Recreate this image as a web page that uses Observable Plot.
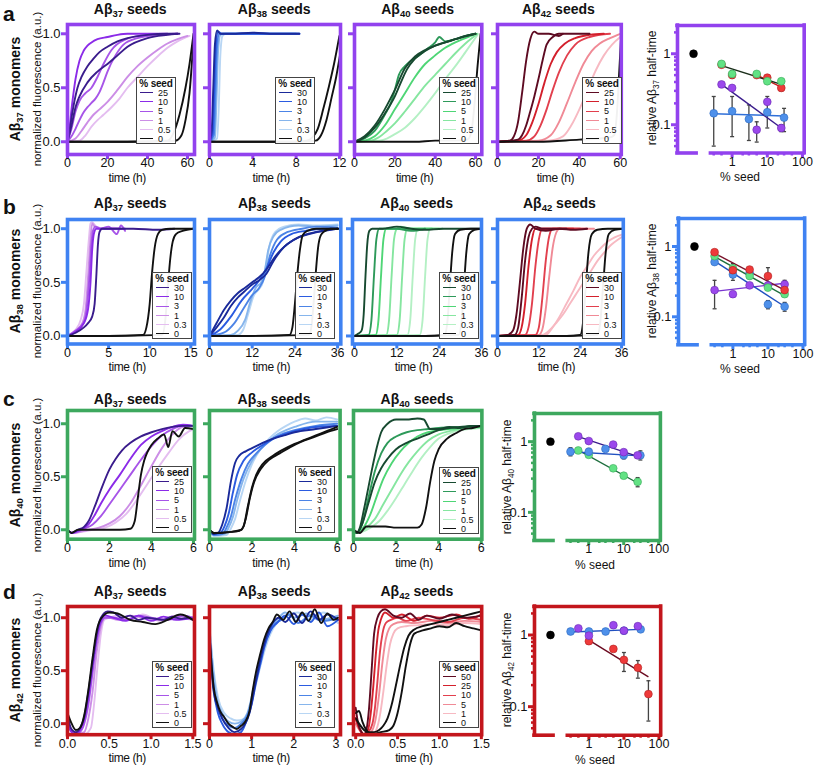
<!DOCTYPE html>
<html><head><meta charset="utf-8">
<script src="https://cdn.jsdelivr.net/npm/d3@7"></script>
<script src="https://cdn.jsdelivr.net/npm/@observablehq/plot@0.6"></script>
<style>
body{margin:0;background:#fff;font-family:"Liberation Sans",Arial,sans-serif;color:#111;}
#fig{position:relative;width:815px;height:766px;overflow:hidden;background:#fff;}
.abs{position:absolute;white-space:nowrap;}
.ctr{transform:translate(-50%,-50%);}
.rot{transform:translate(-50%,-50%) rotate(-90deg);}
.title{font-weight:bold;font-size:14px;line-height:16px;}
.rowlab{font-weight:bold;font-size:21px;line-height:21px;}
.xl{font-size:12px;line-height:11px;letter-spacing:-0.4px;}
.ylb{font-weight:bold;font-size:14px;line-height:16px;}
.yln{font-size:11.5px;line-height:13px;}
.ylh{font-size:12px;line-height:11px;}
sub{font-size:0.68em;vertical-align:baseline;position:relative;top:0.35em;line-height:0;}
.legend{position:absolute;width:40px;height:67px;box-sizing:border-box;border:1px solid #444;background:rgba(255,255,255,0.94);}
.lh{font-weight:bold;font-size:10px;line-height:11px;height:11px;text-align:center;letter-spacing:-0.2px;}
.lr{font-size:9px;line-height:9.2px;height:9.2px;}
.sw{display:inline-block;width:13px;border-top:1.6px solid;vertical-align:middle;margin:0 5px 0 3px;position:relative;top:-1px;}
.plot{position:absolute;}
.plot svg{display:block;overflow:visible;}
</style></head>
<body><div id="fig"></div>
<script>
const FONT='"Liberation Sans", Arial, sans-serif';

// ---------- colours by seed type (dark -> light, then black for 0 %) ----------
const palP=["#3A1C8C","#8B2BE8","#A755E8","#CC8EE6","#E4BDF0","#111111"];
const palB=["#1A2A9A","#2B5BE0","#4C84E6","#86B5EC","#B8D6F4","#111111"];
const palG=["#174A30","#2E9A5A","#4FD676","#86E6A0","#B4F0C4","#111111"];
const palR=["#5E0B22","#D3202C","#E2404E","#F08A96","#F7B9C2","#111111"];
const frameCol={a:"#9242EE",b:"#3F82F2",c:"#3DA85E",d:"#C3161C"};

// ---------- legend labels (% seed) ----------
const seeds25=["25","10","5","1","0.5","0"];
const seeds30=["30","10","3","1","0.3","0"];
const seeds50=["50","25","10","5","1","0"];

// ---------- kinetic traces: [seed index, time (h), normalized fluorescence] ----------
const a1=[
[0,[0,1,2,3,5,7,10,13,16,20,25,30,40,50,56],[0,0.1,0.22,0.33,0.5,0.6,0.7,0.77,0.83,0.88,0.93,0.96,0.99,1,1]],
[0,[0,2,4,6,10,15,20,25,30,40,50,55],[0,0.15,0.32,0.42,0.55,0.65,0.72,0.8,0.88,0.96,0.99,1]],
[1,[0,1,2,3,4,6,8,10,12,15,20,25,30,40,50],[0,0.12,0.3,0.45,0.58,0.75,0.84,0.89,0.92,0.95,0.97,0.99,1,1,1]],
[2,[0,2,4,6,8,10,12,14,16,18,20,24,28,35,45,55],[0,0.05,0.12,0.2,0.27,0.32,0.36,0.4,0.46,0.55,0.65,0.8,0.9,0.96,0.99,1]],
[2,[0,2,4,6,9,12,15,18,22,28,40,55],[0,0.12,0.28,0.38,0.45,0.5,0.6,0.72,0.85,0.94,0.99,1]],
[3,[0,4,7,10,13,16,20,25,30,35,40,45,50,55,60],[0,0.03,0.1,0.18,0.25,0.3,0.37,0.48,0.6,0.7,0.78,0.85,0.91,0.95,0.98]],
[4,[0,6,9,12,15,18,22,26,30,35,40,45,50,55,61],[0,0.01,0.06,0.14,0.2,0.25,0.32,0.4,0.5,0.6,0.7,0.79,0.87,0.93,0.98]],
[5,[0,30,50,53,56,59,61,63],[0,0,0.01,0.08,0.25,0.5,0.72,1]],
[5,[0,30,54,57,59,61,63],[0,0,0.01,0.06,0.2,0.45,0.95]]];
const a2=[
[0,[0,0.2,0.35,0.5,0.7,1,2,4,6,8.3],[0,0.1,0.5,0.9,1.03,1,1,1.01,1,1]],
[1,[0,0.3,0.45,0.6,0.8,1.1,2,4,6,8.3],[0,0.08,0.5,0.9,1.02,1,1,1,1,1]],
[2,[0,0.4,0.55,0.7,0.9,1.2,2,4,6,8.3],[0,0.06,0.45,0.88,1,1,1,1,1,1]],
[3,[0,0.5,0.65,0.8,1,1.3,2,4,6,8],[0,0.04,0.4,0.85,0.99,1,1,1,1,1]],
[4,[0,0.7,0.85,1,1.2,1.5,2,4,6,8],[0,0.03,0.3,0.8,0.98,1,1,1,1,1]],
[5,[0,2,4,6,8,9,9.5,10,10.5,11,11.5,12],[0,0,0,0,0,0.01,0.04,0.12,0.3,0.5,0.72,0.98]],
[5,[0,4,8,9.8,10.3,10.8,11.3,11.7,12.05],[0,0,0,0.01,0.06,0.2,0.42,0.6,0.8]]];
const a3=[
[0,[0,5,10,15,20,23,26,30,35,40,45,50,55,60],[0,0.04,0.13,0.26,0.42,0.55,0.67,0.77,0.84,0.89,0.92,0.95,0.98,1]],
[0,[0,5,10,15,20,25,30,35,40,50,60],[0,0.05,0.15,0.3,0.48,0.68,0.79,0.85,0.89,0.95,1]],
[1,[0,5,10,15,18,20,22,25,28,32,36,40,42,45,50,55,60],[0,0.03,0.1,0.25,0.36,0.48,0.62,0.7,0.75,0.8,0.86,0.92,0.97,0.93,0.95,0.98,1]],
[2,[0,5,10,15,20,25,30,35,40,45,50,55,60],[0,0.01,0.05,0.15,0.3,0.45,0.6,0.72,0.8,0.87,0.92,0.96,1]],
[3,[0,8,12,16,20,25,30,35,40,45,50,55,61],[0,0.01,0.04,0.1,0.17,0.28,0.4,0.52,0.62,0.72,0.82,0.91,1]],
[4,[0,12,16,20,25,30,35,40,45,50,55,61],[0,0.01,0.03,0.07,0.13,0.22,0.33,0.45,0.58,0.7,0.83,0.99]],
[5,[0,10,20,30,40,50,56,58,59.5,61,62.5],[0,0,0,0,0.01,0.01,0.02,0.1,0.35,0.7,1]]];
const a4=[
[0,[0,6,8,10,12,14,16,18,20,25,30,32],[0,0.01,0.05,0.18,0.45,0.75,0.95,1.02,1,1,0.98,1]],
[0,[0,10,12,14,16,18,20,22,24,27,30,35,40,45],[0,0.02,0.06,0.15,0.28,0.42,0.58,0.75,0.9,0.97,1,1,1,1]],
[1,[0,10,14,17,20,23,26,29,33,38,45,52],[0,0.01,0.06,0.18,0.35,0.55,0.72,0.83,0.91,0.96,0.99,1]],
[2,[0,14,18,21,24,27,30,34,38,45,55],[0,0.01,0.05,0.15,0.3,0.48,0.64,0.8,0.9,0.97,1]],
[3,[0,20,26,30,34,38,42,46,50,55,60],[0,0.01,0.06,0.18,0.36,0.55,0.72,0.84,0.91,0.96,1]],
[4,[0,25,32,36,40,44,48,52,56,60],[0,0.01,0.05,0.15,0.3,0.48,0.66,0.8,0.9,0.97]],
[5,[0,20,40,50,55,57,58.5,59.5,60.5],[0,0,0.02,0.03,0.04,0.06,0.3,0.65,1]]];

const b1=[
[0,[0,1,2,2.5,3,3.3,3.5,3.7,3.9,4.2,5,8,11,13],[0,0.03,0.08,0.12,0.18,0.3,0.55,0.85,0.97,1,1,1,0.99,1]],
[1,[0,1,2,2.5,2.8,3,3.2,3.5,4,5,7],[0,0.04,0.12,0.25,0.5,0.8,0.95,1,1,1,1]],
[2,[0,1,2,2.4,2.7,2.9,3.1,3.4,4,5,6,6.5,7],[0,0.05,0.13,0.3,0.6,0.85,0.98,1.02,1,1.02,0.95,1.03,0.98]],
[3,[0,1,1.8,2.2,2.5,2.8,3,3.3,4,5,6.5],[0,0.05,0.12,0.25,0.55,0.9,1.05,1.02,1,1,1]],
[4,[0,1,1.6,2,2.3,2.6,2.8,3,3.5,4.5,5.5,6.5],[0,0.06,0.15,0.3,0.6,0.9,1.05,1.06,1.02,1,1.01,1]],
[5,[0,5,9.2,9.6,10,10.3,10.6,11,11.5,12.5,15.3],[0,0,0.01,0.08,0.3,0.6,0.82,0.95,0.99,1,1]],
[5,[0,5,11.5,11.9,12.2,12.5,12.8,13.2,14,15.3],[0,0,0.01,0.15,0.45,0.72,0.88,0.95,0.98,1]]];
const b2=[
[0,[0,2,4,6,8,10,12,14,16,18,20,22,25,28,32,36],[0,0.12,0.24,0.33,0.4,0.45,0.5,0.55,0.62,0.72,0.8,0.86,0.92,0.95,0.98,1]],
[0,[0,2,4,6,8,10,12,14,16,18,21,25,30,36],[0,0.08,0.17,0.28,0.36,0.42,0.48,0.52,0.58,0.7,0.83,0.92,0.97,1]],
[1,[0,3,6,9,12,14,16,18,20,23,27,32,36],[0,0.06,0.18,0.33,0.44,0.52,0.63,0.78,0.88,0.95,0.98,1,1]],
[2,[0,4,7,10,12,14,15.5,17,19,22,26,30,36],[0,0.03,0.12,0.28,0.38,0.45,0.55,0.75,0.9,0.97,1,1.02,1.01]],
[3,[0,6,8,10,11.5,13,14.5,15.5,16.5,18,20,25,30,36],[0,0.01,0.05,0.15,0.32,0.45,0.5,0.6,0.8,0.93,0.99,1.03,1.02,1.03]],
[4,[0,8,9.5,11,12.5,14,15,16,17,18.5,21,25,30,36],[0,0.01,0.06,0.22,0.38,0.44,0.5,0.68,0.86,0.97,1.02,1.04,1.03,1.04]],
[5,[0,10,22.5,23.3,24,24.7,25.4,26.2,27.5,30,36],[0,0,0.01,0.08,0.3,0.58,0.8,0.94,0.98,1,1]],
[5,[0,10,28,28.7,29.3,29.9,30.5,31.3,32.5,34,36.5],[0,0,0.01,0.1,0.32,0.6,0.82,0.94,0.98,1,1]]];
const b3=[
[0,[0,1,2,2.6,3.1,3.6,4.2,5,8,12,16,20,25,30,36],[0,0.02,0.05,0.2,0.55,0.85,0.98,1,1,1.02,1,0.99,1,1,1]],
[1,[0,4,4.8,5.5,6.2,7,8,12,16,20],[0,0.01,0.15,0.55,0.9,1,1,1,0.98,1]],
[2,[0,6,6.8,7.5,8.2,9,10,14,18,22],[0,0.01,0.15,0.55,0.9,1,1,1,1,1]],
[3,[0,9,9.8,10.5,11.2,12,13,16,20,24],[0,0.01,0.15,0.55,0.9,1,1.02,1,1,1]],
[3,[0,12,12.8,13.5,14.2,15,16,20,24],[0,0.01,0.15,0.55,0.9,1,1,1,1]],
[4,[0,15,15.8,16.5,17.2,18,19,22,25],[0,0.01,0.15,0.55,0.9,1,1,1,1]],
[4,[0,18.5,19.3,20,20.7,21.5,22.5,25],[0,0.01,0.15,0.55,0.9,1,1,1]],
[5,[0,10,20,25.5,26.3,27,27.7,28.5,30,33,36],[0,0,0,0.01,0.12,0.45,0.78,0.95,0.99,1,1]],
[5,[0,10,20,29.5,30.3,31,31.7,32.5,34,36],[0,0,0,0.01,0.12,0.45,0.78,0.95,0.99,1]]];
const b4=[
[0,[0,3,4.5,5.5,6.5,7.5,8.5,9.5,11,14,18,22,26],[0,0.01,0.05,0.2,0.5,0.82,1,1.04,1,0.98,1,0.99,1]],
[0,[0,5,6,7,8,9,10,11,13,16,20],[0,0.01,0.08,0.35,0.7,0.92,1,1.02,1,1,1]],
[1,[0,6,7,8,9,10,11,12,14,18,22],[0,0.01,0.08,0.3,0.65,0.9,1,1,1,1,1]],
[2,[0,8,9,10,11,12,13,14,16,20,24],[0,0.01,0.08,0.3,0.65,0.9,1,1,1,1,1]],
[2,[0,11,12,13,14,15,16,18,22,26],[0,0.01,0.08,0.35,0.7,0.93,1,1,1,1]],
[3,[0,12,13,14,15,16,17,18,20,24,28],[0,0.01,0.06,0.25,0.55,0.82,0.96,1,1,1,1]],
[4,[0,13,15,17,19,21,23,25,27,29,31,33,35,36.5],[0,0.01,0.05,0.12,0.2,0.3,0.4,0.5,0.6,0.7,0.78,0.85,0.9,0.93]],
[4,[0,14,16,18,20,22,24,26,28,30,32,34,36.5],[0,0.01,0.08,0.18,0.3,0.42,0.55,0.65,0.75,0.82,0.88,0.92,0.95]],
[5,[0,10,20,24,24.8,25.6,26.4,27.4,29,32,36.5],[0,0,0,0.01,0.12,0.45,0.78,0.95,0.99,1,1]],
[5,[0,10,20,29,29.8,30.6,31.4,32.3,34,36.5],[0,0,0,0.01,0.12,0.45,0.78,0.95,0.99,1]]];

const c1=[
[0,[0,0.2,0.5,0.8,1,1.3,1.6,2,2.3,2.6,3,3.5,4,4.5,5,5.5,6],[0,-0.03,0,0.03,0.08,0.22,0.38,0.57,0.67,0.75,0.82,0.88,0.92,0.95,0.97,0.98,0.98]],
[1,[0,0.2,0.6,1,1.3,1.6,2,2.5,3,3.5,4,4.5,5,5.5,6],[0,-0.03,0,0.05,0.14,0.25,0.38,0.52,0.67,0.8,0.88,0.93,0.97,0.99,0.98]],
[2,[0,0.2,0.8,1.2,1.6,2,2.5,3,3.5,4,4.5,5,5.5,6],[0,-0.03,0.01,0.05,0.13,0.24,0.38,0.52,0.66,0.79,0.89,0.95,0.98,0.98]],
[3,[0,0.2,1,1.5,2,2.5,3,3.5,4,4.5,5,5.5,6],[0,-0.03,0,0.02,0.06,0.13,0.25,0.42,0.6,0.77,0.9,0.97,0.98]],
[4,[0,0.2,1.2,1.8,2.3,2.8,3.3,3.8,4.3,4.8,5.3,5.8,6],[0,-0.03,0,0.02,0.07,0.15,0.28,0.43,0.58,0.72,0.85,0.93,0.95]],
[5,[0,0.2,0.5,1,1.5,2,2.5,3,3.2,3.35,3.5,3.65,3.8,4,4.3,4.6,4.8,5,5.3,5.6,6],[0,-0.03,0,0,0,0,0,0.01,0.08,0.3,0.52,0.65,0.73,0.8,0.86,0.9,0.78,0.93,0.88,0.96,0.95]]];
const c2=[
[0,[0,0.2,0.4,0.6,0.8,1,1.2,1.4,1.7,2,2.5,3,3.5,4,5,6],[0,-0.04,-0.03,0.05,0.2,0.45,0.63,0.7,0.74,0.77,0.82,0.86,0.89,0.92,0.95,0.98]],
[1,[0,0.2,0.5,0.7,0.9,1.1,1.3,1.6,2,2.5,3,3.5,4,5,6],[0,-0.04,-0.03,0.03,0.15,0.35,0.52,0.65,0.73,0.8,0.86,0.9,0.93,0.97,0.98]],
[2,[0,0.2,0.6,0.8,1,1.2,1.5,1.8,2.2,2.6,3,3.5,4,5,6],[0,-0.05,-0.04,0.02,0.12,0.28,0.48,0.62,0.72,0.8,0.86,0.91,0.94,0.98,1]],
[3,[0,0.2,0.7,0.9,1.1,1.3,1.6,2,2.4,2.8,3.2,3.6,4,5,6],[0,-0.05,-0.04,0.02,0.12,0.28,0.48,0.65,0.76,0.84,0.9,0.94,0.97,1.02,1.02]],
[4,[0,0.2,0.8,1,1.2,1.4,1.7,2,2.4,2.8,3.2,3.6,4,4.5,5,5.5,6],[0,-0.06,-0.05,0.01,0.1,0.25,0.46,0.62,0.76,0.86,0.93,0.98,1.02,1.05,1.03,1.06,1.04]],
[5,[0,0.2,0.5,1,1.4,1.6,1.8,2,2.2,2.5,3,3.5,4,4.5,5,5.5,6],[0,-0.03,-0.03,-0.02,-0.01,0.03,0.22,0.4,0.52,0.62,0.7,0.76,0.81,0.85,0.89,0.93,0.97]],
[5,[0,0.2,1,1.5,1.7,1.9,2.1,2.4,2.8,3.3,3.8,4.3,5,5.5,6],[0,-0.03,-0.02,0,0.1,0.3,0.45,0.57,0.66,0.72,0.78,0.83,0.88,0.92,0.95]]];
const c3=[
[0,[0,0.15,0.3,0.5,0.7,0.9,1.1,1.3,1.6,2,2.5,3,3.3,3.6,4,4.5,5,5.5,6],[0,-0.03,0.02,0.2,0.4,0.6,0.78,0.92,1,1.04,1.04,1.05,1.04,0.95,0.95,0.97,0.96,0.98,0.98]],
[0,[0,0.15,0.4,0.7,1,1.3,1.6,2,2.5,3,3.5,4,5,6],[0,-0.03,0.05,0.25,0.45,0.58,0.67,0.76,0.82,0.86,0.9,0.94,0.97,0.98]],
[1,[0,0.15,0.4,0.7,1,1.3,1.6,2,2.5,3,3.5,4,5,6],[0,-0.03,0.05,0.3,0.55,0.72,0.82,0.88,0.92,0.94,0.95,0.96,0.97,0.98]],
[2,[0,0.15,0.5,0.8,1.1,1.4,1.8,2.2,2.6,3,3.5,4,5,6],[0,-0.03,0.03,0.15,0.32,0.48,0.63,0.74,0.82,0.88,0.92,0.94,0.96,0.97]],
[3,[0,0.15,0.6,1,1.4,1.8,2.2,2.6,3,3.5,4,4.5,5,6],[0,-0.03,0.02,0.1,0.24,0.38,0.52,0.64,0.74,0.84,0.9,0.93,0.95,0.97]],
[4,[0,0.15,0.8,1.2,1.6,2,2.4,2.8,3.2,3.6,4,4.5,5,6],[0,-0.03,0.02,0.08,0.18,0.3,0.43,0.56,0.68,0.78,0.86,0.91,0.94,0.96]],
[5,[0,0.3,0.6,1,1.5,2,2.5,3,3.2,3.4,3.6,3.8,4,4.4,4.8,5.2,5.6,6],[0,-0.03,0.03,0.03,0.03,0.02,0.02,0.02,0.05,0.2,0.45,0.65,0.76,0.86,0.91,0.95,0.96,0.98]]];

const d1=[
[0,[0,0.04,0.1,0.15,0.2,0.25,0.3,0.35,0.4,0.48,0.55,0.65,0.75,0.85,0.95,1.05,1.15,1.25,1.35,1.45,1.5],[0.09,-0.04,-0.08,-0.04,0.06,0.3,0.58,0.85,1,1.06,1.05,1,1.02,0.98,1,0.99,0.98,1.01,0.99,1,0.98]],
[1,[0,0.05,0.1,0.15,0.2,0.25,0.3,0.35,0.4,0.45,0.55,0.7,0.85,1,1.15,1.3,1.5],[0.02,-0.08,-0.1,-0.06,0.04,0.25,0.55,0.82,0.97,1.02,1,0.97,1.02,0.97,1.01,0.98,1]],
[2,[0,0.05,0.1,0.15,0.2,0.25,0.3,0.35,0.4,0.45,0.55,0.7,0.85,1,1.2,1.4,1.5],[0,-0.08,-0.1,-0.08,0,0.18,0.48,0.78,0.95,1,1,0.98,1.02,1,0.98,1.02,1]],
[3,[0,0.1,0.2,0.25,0.3,0.35,0.4,0.45,0.5,0.6,0.75,0.9,1.1,1.3,1.5],[0,-0.1,-0.08,0.05,0.3,0.68,0.92,1,1,0.98,1.02,1,0.98,1.02,1]],
[4,[0,0.1,0.2,0.28,0.32,0.36,0.4,0.44,0.5,0.6,0.75,0.9,1.1,1.3,1.5],[0,-0.1,-0.1,-0.04,0.2,0.55,0.85,0.98,1,1.02,0.98,1.03,0.97,1,0.98]],
[5,[0,0.05,0.1,0.15,0.2,0.25,0.3,0.35,0.4,0.5,0.6,0.75,0.9,1.05,1.2,1.35,1.5],[0.1,0,-0.06,-0.04,0.08,0.32,0.62,0.88,0.99,1.05,1.04,0.98,0.96,0.94,0.98,1.03,0.98]]];
const d2=[
[4,[0,0.1,0.2,0.35,0.5,0.65,0.8,0.95,1.05,1.15,1.3,1.45,1.6,1.8,2.1,2.4,2.7,3.05],[0.92,0.5,0.25,0.1,0.05,0.03,0.04,0.12,0.28,0.45,0.68,0.85,0.95,1.02,1.05,0.98,1.05,0.95]],
[3,[0,0.1,0.2,0.3,0.45,0.6,0.75,0.9,1,1.1,1.25,1.4,1.6,1.8,2,2.3,2.6,3.05],[0.9,0.45,0.2,0.1,0.02,0,0.02,0.1,0.25,0.45,0.7,0.88,0.98,1.05,1,1.04,0.98,1.02]],
[2,[0,0.1,0.2,0.3,0.45,0.6,0.75,0.9,1,1.1,1.2,1.35,1.5,1.7,1.9,2.1,2.4,2.7,3.05],[0.82,0.35,0.15,0.05,-0.02,-0.04,0,0.08,0.22,0.42,0.6,0.8,0.92,0.98,1.03,0.95,1.02,0.97,1]],
[1,[0,0.05,0.1,0.2,0.3,0.45,0.6,0.75,0.9,1,1.1,1.2,1.3,1.45,1.6,1.8,2,2.2,2.4,2.6,2.8,3.05],[0.85,0.55,0.32,0.1,0,-0.08,-0.1,-0.08,0.05,0.18,0.38,0.55,0.72,0.88,0.95,1.02,0.94,1.03,0.96,1.05,0.92,0.98]],
[0,[0,0.05,0.1,0.2,0.3,0.45,0.6,0.75,0.85,0.95,1.05,1.15,1.25,1.35,1.5,1.65,1.8,2,2.2,2.4,2.6,2.8,3.05],[0.8,0.5,0.3,0.15,0.05,-0.04,-0.08,-0.05,0,0.1,0.3,0.5,0.68,0.82,0.95,1,0.96,1.04,0.95,1.06,0.98,1.03,0.98]],
[5,[0,0.05,0.1,0.18,0.25,0.35,0.45,0.55,0.65,0.75,0.85,0.95,1.02,1.1,1.2,1.3,1.4,1.5,1.6,1.75,1.9,2.05,2.2,2.35,2.5,2.65,2.8,2.95,3.05],[0.84,0.55,0.34,0.2,0.12,0.06,0,-0.03,-0.05,-0.02,0.02,0.12,0.3,0.48,0.65,0.8,0.9,0.96,1.03,0.98,1.06,0.96,1.05,0.97,1.08,0.95,1.04,0.98,1]]];
const d3=[
[0,[0,0.03,0.07,0.1,0.13,0.16,0.19,0.22,0.26,0.3,0.35,0.45,0.55,0.65,0.75,0.85,1,1.15,1.3,1.5],[0.15,0,-0.08,-0.1,-0.05,0.15,0.5,0.85,1,1.06,1.08,1.02,1,1.04,0.98,1.02,0.99,1.03,1,1.02]],
[1,[0,0.05,0.1,0.15,0.18,0.21,0.24,0.27,0.3,0.35,0.45,0.55,0.7,0.85,1,1.2,1.35,1.5],[0.05,-0.06,-0.1,-0.05,0.1,0.35,0.65,0.88,0.98,1.05,1,1.03,0.97,1.02,1,1.03,0.99,1.03]],
[2,[0,0.05,0.1,0.15,0.2,0.23,0.26,0.29,0.32,0.36,0.42,0.5,0.6,0.75,0.9,1.1,1.3,1.5],[0.05,-0.05,-0.1,-0.08,0,0.15,0.4,0.68,0.85,0.95,0.98,1,0.97,1,0.98,0.96,1,0.98]],
[3,[0,0.1,0.15,0.2,0.24,0.28,0.32,0.36,0.4,0.45,0.55,0.7,0.9,1.1,1.3,1.5],[0,-0.1,-0.1,-0.06,0.05,0.28,0.58,0.8,0.9,0.94,0.96,0.95,0.97,0.95,0.97,0.96]],
[4,[0,0.1,0.2,0.25,0.29,0.33,0.37,0.41,0.45,0.5,0.6,0.75,0.9,1.1,1.3,1.5],[0,-0.1,-0.1,-0.05,0.08,0.3,0.55,0.75,0.85,0.9,0.92,0.93,0.94,0.93,0.95,0.94]],
[5,[0,0.04,0.08,0.12,0.16,0.22,0.28,0.33,0.38,0.43,0.48,0.53,0.58,0.63,0.7,0.8,0.9,1,1.1,1.2,1.3,1.4,1.5],[0.1,0.12,0.02,-0.05,-0.08,-0.08,-0.06,-0.02,0.05,0.18,0.36,0.55,0.72,0.83,0.89,0.92,0.94,0.96,0.98,1,1.02,1.04,1.06]],
[5,[0,0.1,0.2,0.3,0.4,0.45,0.5,0.55,0.6,0.65,0.7,0.8,0.9,1,1.1,1.2,1.3,1.4,1.5],[0.05,-0.06,-0.1,-0.08,-0.06,-0.02,0.1,0.3,0.55,0.75,0.85,0.88,0.9,0.92,0.91,0.95,0.92,0.9,0.88]]];

// ---------- relative half-time panels: [group, % seed, value] ----------
const htA_pts=[["K",0.08,1],["B",0.3,0.145],["B",1,0.155],["B",3,0.12],["B",10,0.15],["B",30,0.126],
 ["P",0.5,0.37],["P",1,0.33],["P",5,0.085],["P",10,0.21],["P",25,0.09],
 ["R",0.5,0.7],["R",1,0.5],["R",5,0.5],["R",10,0.46],["R",25,0.33],
 ["G",0.5,0.72],["G",1,0.52],["G",5,0.52],["G",10,0.41],["G",25,0.41]];
const htA_err=[["B",0.3,0.05,0.25],["B",1,0.068,0.25],["B",3,0.06,0.19],["B",10,0.09,0.25],["B",30,0.08,0.17],["P",5,0.057,0.11],["P",25,0.08,0.1],["G",1,0.45,0.58],["R",25,0.3,0.36]];
const htA_fit=[["B",0.3,0.143,30,0.133],["P",0.5,0.37,25,0.09],["R",5,0.5,25,0.34],["G",0.5,0.68,25,0.37]];
const htB_pts=[["K",0.08,1],["P",0.3,0.24],["P",1,0.21],["P",3,0.28],["P",10,0.28],["P",30,0.29],
 ["B",0.3,0.6],["B",1,0.4],["B",3,0.42],["B",10,0.15],["B",30,0.14],
 ["G",0.3,0.73],["G",1,0.49],["G",3,0.38],["G",10,0.26],["G",30,0.21],
 ["R",0.3,0.83],["R",1,0.46],["R",3,0.47],["R",10,0.38],["R",30,0.24]];
const htB_err=[["K",0.08,0.9,1.1],["P",0.3,0.13,0.33],["G",1,0.42,0.57],["B",1,0.33,0.47],["R",3,0.44,0.5],["R",10,0.3,0.5],["B",10,0.13,0.17],["B",30,0.12,0.16],["P",30,0.25,0.33],["G",3,0.35,0.48]];
const htB_fit=[["P",0.3,0.23,30,0.3],["B",0.3,0.62,30,0.14],["G",0.3,0.72,30,0.2],["R",0.3,0.8,30,0.24]];
const htC_pts=[["K",0.08,1],["G",0.5,0.75],["G",1,0.65],["G",5,0.42],["G",10,0.33],["G",25,0.27],
 ["B",0.3,0.72],["B",1,0.72],["B",3,0.79],["B",10,0.64],["B",30,0.64],
 ["P",0.5,1.19],["P",1,1.02],["P",5,0.91],["P",10,0.71],["P",25,0.64]];
const htC_err=[["B",0.3,0.63,0.82],["B",1,0.66,0.8],["B",10,0.57,0.7],["B",30,0.55,0.74],["G",1,0.6,0.7],["G",25,0.23,0.31],["P",25,0.58,0.68]];
const htC_fit=[["G",0.5,0.76,25,0.26],["B",0.3,0.72,30,0.63],["P",0.5,1.18,25,0.62]];
const htD_pts=[["K",0.08,1],["R",1,0.82],["R",5,0.64],["R",10,0.45],["R",25,0.35],["R",50,0.15],
 ["B",0.3,1.12],["B",1,1.12],["B",3,1.12],["B",10,1.15],["B",30,1.2],
 ["P",0.5,1.24],["P",1,0.98],["P",5,1.37],["P",10,1.15],["P",25,1.33]];
const htD_err=[["R",1,0.76,0.88],["R",10,0.31,0.57],["R",25,0.25,0.44],["R",50,0.063,0.23],["P",1,0.9,1.05]];
const htD_fit=[["B",0.3,1.1,30,1.2],["R",1,0.85,50,0.26]];

const dotFill={K:"#000000",P:"#9B48EC",B:"#4E90EA",G:"#62E284",R:"#EE3A3A"};
const dotStroke={K:"#000000",P:"#6A2AB0",B:"#2E6AC0",G:"#3AA85A",R:"#B02020"};
const fitColA={G:"#1B2E1B",R:"#C41A1A",P:"#3A1C8C",B:"#3070D8"};
const fitColB={R:"#7A1028",G:"#1E6E3E",B:"#2050C0",P:"#7A34D0"};
const fitColC={P:"#3A1C8C",B:"#2050C0",G:"#1E6E3E"};
const fitColD={B:"#2050C0",R:"#6A0A20"};

// ---------- helpers ----------
const fig=document.getElementById("fig");
function txt(html,x,y,cls){const d=document.createElement("div");d.className="abs "+cls;d.style.left=x+"px";d.style.top=y+"px";d.innerHTML=html;fig.appendChild(d);return d;}
function place(node,x,y){const d=document.createElement("div");d.className="plot";d.style.left=x+"px";d.style.top=y+"px";d.appendChild(node);fig.appendChild(d);}
function legend(x,y,labels,colors){
  const d=document.createElement("div");d.className="legend";d.style.left=x+"px";d.style.top=y+"px";
  let h='<div class="lh">% seed</div>';
  labels.forEach((l,i)=>{h+=`<div class="lr"><span class="sw" style="border-top-color:${colors[i]}"></span>${l}</div>`;});
  d.innerHTML=h;fig.appendChild(d);
}
const ML=42,MR=8,MT=8,MB=26;

function kinetic(p){
  const w=ML+(p.x2-p.x1)+MR,h=MT+(p.y2-p.y1)+MB;
  const rows=[];
  const order=p.data.map((s,i)=>({s,i})).sort((a,b)=>{const r=k=>k===5?6:4-k;return r(a.s[0])-r(b.s[0])||a.i-b.i;});
  order.forEach(({s,i})=>{const [k,t,y]=s;t.forEach((tt,j)=>rows.push({t:tt,y:y[j],id:i,c:p.pal[k]}));});
  const chart=Plot.plot({
    width:w,height:h,marginLeft:ML,marginRight:MR,marginTop:MT,marginBottom:MB,
    x:{domain:p.xdom},y:{domain:p.ydom},color:{type:"identity"},
    style:{fontFamily:FONT,fontSize:"13px",background:"transparent",overflow:"visible",color:"#111"},
    marks:[
      Plot.line(rows,{x:"t",y:"y",z:"id",stroke:"c",strokeWidth:1.9,curve:"monotone-x",clip:true}),
      Plot.frame({stroke:p.fc,strokeWidth:3.6}),
      Plot.axisX({ticks:p.xticks,tickFormat:p.xfmt,tickSize:5,tickPadding:-1,stroke:p.fc,strokeWidth:3,fill:"#111",label:null,fontSize:12.5}),
      Plot.axisY({ticks:[0,0.5,1],tickFormat:p.ylab?(d=>d.toFixed(1)):(()=>""),tickSize:6,tickPadding:1,stroke:p.fc,strokeWidth:3,fill:"#111",label:null,fontSize:13})
    ]});
  place(chart,p.x1-ML,p.y1-MT);
  legend(p.lx,p.ly,p.labels,p.pal);
  txt(p.title,(p.x1+p.x2)/2,p.ty,"ctr title");
  txt("time (h)",(p.x1+p.x2)/2-3,p.y2+24,"ctr xl");
}

function halftime(p){
  const w=ML+(p.x2-p.x1)+MR,h=MT+(p.y2-p.y1)+MB;
  const xd=[0.028,112],yd=[0.04,2.5];
  const pts=p.pts.map(([g,x,y])=>({g,x,y}));
  const err=p.err.map(([g,x,lo,hi])=>({g,x,lo,hi}));
  const fit=p.fit.map(([g,x1,y1,x2,y2])=>({g,x1,y1,x2,y2}));
  const edges=[{y:yd[0],a:xd[0],b:0.098},{y:yd[0],a:0.25,b:xd[1]},{y:yd[1],a:xd[0],b:xd[1]}];
  const chart=Plot.plot({
    width:w,height:h,marginLeft:ML,marginRight:MR,marginTop:MT,marginBottom:MB,
    x:{type:"log",domain:xd},y:{type:"log",domain:yd},color:{type:"identity"},
    style:{fontFamily:FONT,fontSize:"13px",background:"transparent",overflow:"visible",color:"#111"},
    marks:[
      Plot.ruleY(edges,{y:"y",x1:"a",x2:"b",stroke:p.fc,strokeWidth:3.6,strokeLinecap:"square"}),
      Plot.ruleX([xd[0],xd[1]],{stroke:p.fc,strokeWidth:3.6,strokeLinecap:"square"}),
      Plot.axisY({ticks:[0.1,1],tickFormat:d=>d>=1?"1":"0.1",tickSize:6,tickPadding:1,stroke:p.fc,strokeWidth:3,fill:"#111",label:null,fontSize:13}),
      Plot.axisY({ticks:[0.05,0.06,0.07,0.08,0.09,0.2,0.3,0.4,0.5,0.6,0.7,0.8,0.9,2],tickFormat:()=>"",tickSize:3,stroke:p.fc,strokeWidth:2.5,label:null}),
      Plot.axisX({ticks:[1,10,100],tickFormat:d=>String(d),tickSize:5,tickPadding:-1,stroke:p.fc,strokeWidth:3,fill:"#111",label:null,fontSize:12.5}),
      Plot.axisX({ticks:[0.3,0.5,2,3,5,20,30,50],tickFormat:()=>"",tickSize:3,stroke:p.fc,strokeWidth:2.5,label:null}),
      Plot.ruleX(err,{x:"x",y1:"lo",y2:"hi",stroke:"#444",strokeWidth:1.3}),
      Plot.link(err,{x1:d=>d.x/1.14,x2:d=>d.x*1.14,y1:"lo",y2:"lo",stroke:"#444",strokeWidth:1.3}),
      Plot.link(err,{x1:d=>d.x/1.14,x2:d=>d.x*1.14,y1:"hi",y2:"hi",stroke:"#444",strokeWidth:1.3}),
      Plot.link(fit,{x1:"x1",y1:"y1",x2:"x2",y2:"y2",stroke:d=>p.fitCol[d.g],strokeWidth:1.4}),
      Plot.dot(pts,{x:"x",y:"y",r:3.9,fill:d=>dotFill[d.g],stroke:d=>dotStroke[d.g],strokeWidth:0.6})
    ]});
  place(chart,p.x1-ML,p.y1-MT);
  txt(p.ylabel,p.lx,(p.y1+p.y2)/2,"rot ylh");
  txt("% seed",p.sx,p.y2+25,"ctr ylh");
}

const fmt0=d=>String(d), fmt1=d=>d.toFixed(1);
const T37="Aβ<sub>37</sub> seeds",T38="Aβ<sub>38</sub> seeds",T40="Aβ<sub>40</sub> seeds",T42="Aβ<sub>42</sub> seeds";

// ---------- row a ----------
const yA=[24,154],ydA=[-0.118,1.086];
kinetic({data:a1,pal:palP,labels:seeds25,x1:66.7,x2:193.7,y1:yA[0],y2:yA[1],xdom:[0,63.5],ydom:ydA,xticks:[0,20,40,60],xfmt:fmt0,ylab:true,fc:frameCol.a,lx:136,ly:77,title:T37,ty:9});
kinetic({data:a2,pal:palB,labels:seeds30,x1:208.7,x2:339.7,y1:yA[0],y2:yA[1],xdom:[0,12.1],ydom:ydA,xticks:[0,4,8,12],xfmt:fmt0,ylab:false,fc:frameCol.a,lx:275,ly:77,title:T38,ty:9});
kinetic({data:a3,pal:palG,labels:seeds25,x1:354,x2:481.3,y1:yA[0],y2:yA[1],xdom:[0,63.1],ydom:ydA,xticks:[0,20,40,60],xfmt:fmt0,ylab:false,fc:frameCol.a,lx:439,ly:77,title:T40,ty:9});
kinetic({data:a4,pal:palR,labels:seeds25,x1:496.5,x2:620.3,y1:yA[0],y2:yA[1],xdom:[0,60.5],ydom:ydA,xticks:[0,20,40,60],xfmt:fmt0,ylab:false,fc:frameCol.a,lx:582,ly:77,title:T42,ty:9});
halftime({pts:htA_pts,err:htA_err,fit:htA_fit,fitCol:fitColA,x1:677.3,x2:804,y1:24.5,y2:152,fc:frameCol.a,ylabel:"relative Aβ<sub>37</sub> half-time",lx:652,sx:740});

// ---------- row b ----------
const yB=[218.5,343],ydB=[-0.075,1.086];
kinetic({data:b1,pal:palP,labels:seeds30,x1:66.7,x2:193.7,y1:yB[0],y2:yB[1],xdom:[0,15.45],ydom:ydB,xticks:[0,5,10,15],xfmt:fmt0,ylab:true,fc:frameCol.b,lx:152,ly:272,title:T37,ty:203});
kinetic({data:b2,pal:palB,labels:seeds30,x1:208.7,x2:340,y1:yB[0],y2:yB[1],xdom:[0,36.9],ydom:ydB,xticks:[0,12,24,36],xfmt:fmt0,ylab:false,fc:frameCol.b,lx:295,ly:272,title:T38,ty:203});
kinetic({data:b3,pal:palG,labels:seeds30,x1:352,x2:481,y1:yB[0],y2:yB[1],xdom:[-0.57,36],ydom:ydB,xticks:[0,12,24,36],xfmt:fmt0,ylab:false,fc:frameCol.b,lx:439,ly:272,title:T40,ty:203});
kinetic({data:b4,pal:palR,labels:seeds30,x1:496.5,x2:622.3,y1:yB[0],y2:yB[1],xdom:[0,36.5],ydom:ydB,xticks:[0,12,24,36],xfmt:fmt0,ylab:false,fc:frameCol.b,lx:582,ly:272,title:T42,ty:203});
halftime({pts:htB_pts,err:htB_err,fit:htB_fit,fitCol:fitColB,x1:677.8,x2:804,y1:217.7,y2:344,fc:frameCol.b,ylabel:"relative Aβ<sub>38</sub> half-time",lx:652,sx:740});

// ---------- row c ----------
const yC=[410,538.7],ydC=[-0.089,1.125];
kinetic({data:c1,pal:palP,labels:seeds25,x1:66.7,x2:193.7,y1:yC[0],y2:yC[1],xdom:[0,6.05],ydom:ydC,xticks:[0,2,4,6],xfmt:fmt0,ylab:true,fc:frameCol.c,lx:152,ly:466,title:T37,ty:399});
kinetic({data:c2,pal:palB,labels:seeds30,x1:208.7,x2:339.3,y1:yC[0],y2:yC[1],xdom:[0,6.14],ydom:ydC,xticks:[0,2,4,6],xfmt:fmt0,ylab:false,fc:frameCol.c,lx:295,ly:466,title:T38,ty:399});
kinetic({data:c3,pal:palG,labels:seeds25,x1:352.8,x2:481.2,y1:yC[0],y2:yC[1],xdom:[0,6.03],ydom:ydC,xticks:[0,2,4,6],xfmt:fmt0,ylab:false,fc:frameCol.c,lx:439,ly:467,title:T40,ty:399});
halftime({pts:htC_pts,err:htC_err,fit:htC_fit,fitCol:fitColC,x1:533.8,x2:659.7,y1:413,y2:540,fc:frameCol.c,ylabel:"relative Aβ<sub>40</sub> half-time",lx:507,sx:595});

// ---------- row d ----------
const yD=[605.5,733.7],ydD=[-0.104,1.106];
kinetic({data:d1,pal:palP,labels:seeds25,x1:66.7,x2:193.7,y1:yD[0],y2:yD[1],xdom:[0,1.52],ydom:ydD,xticks:[0,0.5,1,1.5],xfmt:fmt1,ylab:true,fc:frameCol.d,lx:152,ly:661,title:T37,ty:591});
kinetic({data:d2,pal:palB,labels:seeds30,x1:208.7,x2:339.7,y1:yD[0],y2:yD[1],xdom:[0,3.11],ydom:ydD,xticks:[0,1,2,3],xfmt:fmt0,ylab:false,fc:frameCol.d,lx:295,ly:661,title:T38,ty:591});
kinetic({data:d3,pal:palR,labels:seeds50,x1:352.8,x2:481,y1:yD[0],y2:yD[1],xdom:[-0.026,1.504],ydom:ydD,xticks:[0,0.5,1,1.5],xfmt:fmt1,ylab:false,fc:frameCol.d,lx:439,ly:661,title:T42,ty:591});
halftime({pts:htD_pts,err:htD_err,fit:htD_fit,fitCol:fitColD,x1:533.8,x2:660,y1:606,y2:734.7,fc:frameCol.d,ylabel:"relative Aβ<sub>42</sub> half-time",lx:507,sx:595});

// ---------- row labels and y titles ----------
[["a",3,3,89],["b",3,196,281],["c",3,388,475],["d",3,581,670]].forEach(([l,x,y,cy],i)=>{
  txt(l,x,y,"rowlab");
  txt(`Aβ<sub>${["37","38","40","42"][i]}</sub> monomers`,15,cy,"rot ylb");
  txt("normalized fluorescence (a.u.)",37,cy,"rot yln");
});
</script></body></html>
